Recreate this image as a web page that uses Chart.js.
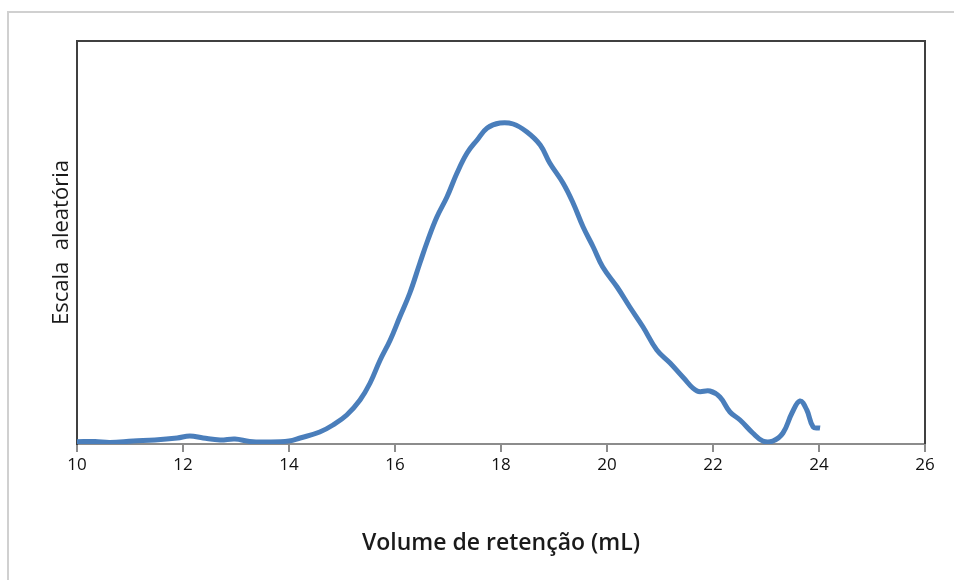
<!DOCTYPE html>
<html>
<head>
<meta charset="utf-8">
<script src="https://cdn.jsdelivr.net/npm/chart.js@4.4.1/dist/chart.umd.min.js"></script>
<style>
  html, body { margin: 0; padding: 0; background: #fff; overflow: hidden; }
  #wrap { position: relative; width: 954px; height: 580px; }
  #frame { position: absolute; left: 7px; top: 11px; width: 1000px; height: 640px; border: 2px solid #d0d0d0; box-sizing: border-box; }
  canvas { position: absolute; left: 0; top: 0; }
</style>
</head>
<body>
<div id="wrap">
  <div id="frame"></div>
  <canvas id="c" width="954" height="580"></canvas>
</div>
<script>
// Retention volume (mL)
const volume = [
  10.00, 10.34, 10.62, 11.06, 11.47, 11.89, 12.13, 12.38, 12.70, 12.98, 13.26, 13.58, 14.00,
  14.21, 14.58, 14.83, 15.09, 15.34, 15.53, 15.72, 15.91, 16.09, 16.28, 16.47, 16.62, 16.79,
  16.98, 17.17, 17.36, 17.55, 17.74, 17.98, 18.23, 18.49, 18.74, 18.92, 19.17, 19.36, 19.55,
  19.74, 19.92, 20.19, 20.43, 20.68, 20.94, 21.19, 21.43, 21.70, 21.94, 22.13, 22.32, 22.51,
  22.75, 22.94, 23.13, 23.32, 23.49, 23.64, 23.77, 23.89, 24.02
];
// Signal (arbitrary scale)
const signal = [
  2.3, 2.5, 1.5, 3, 4, 6, 8, 6, 4, 5, 2.5, 2, 3,
  6, 12, 19, 29, 44, 61, 84, 104, 127, 151, 181, 204, 227,
  247, 271, 291, 304, 316, 321, 320, 312, 299, 281, 261, 241, 217,
  197, 177, 157, 137, 117, 94, 81, 67, 53, 53, 47, 32, 24,
  11, 3, 3, 11, 31, 43, 34, 17, 16
];
const xTickValues = [10, 12, 14, 16, 18, 20, 22, 24, 26];
const xTitle = 'Volume de retenção (mL)';
const yTitle = 'Escala  aleatória';

const points = volume.map((v, i) => ({ x: v, y: signal[i] }));

const framePlugin = {
  id: 'frame',
  beforeDatasetsDraw(chart) {
    const a = chart.chartArea;
    const ctx = chart.ctx;
    ctx.save();
    ctx.strokeStyle = '#404040';
    ctx.lineWidth = 2;
    ctx.beginPath();
    ctx.moveTo(a.left, a.bottom);
    ctx.lineTo(a.left, a.top);
    ctx.lineTo(a.right, a.top);
    ctx.lineTo(a.right, a.bottom);
    ctx.stroke();
    ctx.restore();
  }
};

new Chart(document.getElementById('c'), {
  type: 'line',
  data: {
    datasets: [{
      data: points,
      borderColor: '#4A7EBB',
      borderWidth: 5,
      pointRadius: 0,
      tension: 0.4,
      fill: false
    }]
  },
  options: {
    responsive: false,
    animation: false,
    layout: { padding: { top: 41, right: 29, left: 0, bottom: 0 } },
    plugins: { legend: { display: false }, tooltip: { enabled: false } },
    scales: {
      x: {
        type: 'linear',
        min: 10, max: 26,
        afterBuildTicks(scale) { scale.ticks = xTickValues.map(v => ({ value: v })); },
        afterFit(scale) { scale.height = 136; },
        grid: { drawOnChartArea: false, drawTicks: true, tickLength: 8, color: '#8c8c8c', lineWidth: 2 },
        border: { color: '#8c8c8c', width: 2 },
        ticks: { color: '#111', padding: 3, font: { family: 'Open Sans', size: 17 } },
        title: {
          display: true, text: xTitle, color: '#1a1a1a',
          font: { family: 'Open Sans', size: 23, weight: '600' },
          padding: { top: 0, bottom: 23 }
        }
      },
      y: {
        min: 0, max: 403,
        afterFit(scale) { scale.width = 77; },
        grid: { display: false },
        border: { color: '#404040', width: 2 },
        ticks: { display: false },
        title: {
          display: true, text: yTitle, color: '#1a1a1a',
          font: { family: 'Open Sans', size: 22, weight: '500' },
          padding: { top: 49, bottom: 0 }
        }
      }
    }
  },
  plugins: [framePlugin]
});
</script>
</body>
</html>
